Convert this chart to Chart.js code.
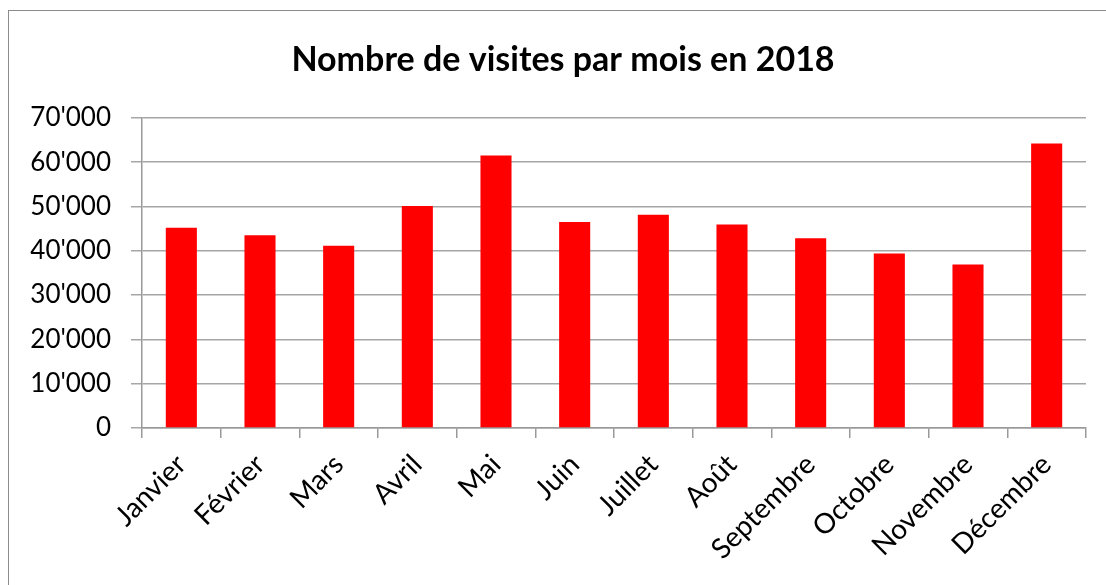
<!DOCTYPE html>
<html>
<head>
<meta charset="utf-8">
<script src="https://cdn.jsdelivr.net/npm/chart.js@4/dist/chart.umd.min.js"></script>
<style>
  html, body { margin: 0; padding: 0; background: #fff; }
  #wrap { position: absolute; left: 0; top: 0; width: 1106px; height: 585px; }
  #frame { position: absolute; left: 8px; top: 10px; width: 1110px; height: 600px; border-left: 1.5px solid #8c8c8c; border-top: 1.5px solid #8c8c8c; box-sizing: border-box; }
  canvas { position: absolute; left: 0; top: 0; }
</style>
</head>
<body>
<div id="wrap">
  <div id="frame"></div>
  <canvas id="c" width="1106" height="585"></canvas>
</div>
<script>
const titleText = "Nombre de visites par mois en 2018";
const categories = ["Janvier", "Février", "Mars", "Avril", "Mai", "Juin", "Juillet", "Août", "Septembre", "Octobre", "Novembre", "Décembre"];
const visits = [45200, 43500, 41100, 50100, 61500, 46500, 48100, 45900, 42800, 39400, 36900, 64200];
const yTicks = [0, 10000, 20000, 30000, 40000, 50000, 60000, 70000];

function fmt(v) {
  return String(Math.round(v)).replace(/\B(?=(\d{3})+(?!\d))/g, "'");
}

const FONT = "Lato, 'Open Sans', sans-serif";

new Chart(document.getElementById('c'), {
  type: 'bar',
  data: {
    labels: categories,
    datasets: [{
      label: 'Visites',
      data: visits,
      yAxisID: 'y',
      backgroundColor: '#ff0000',
      borderWidth: 0,
      categoryPercentage: 1,
      barPercentage: 0.395
    }]
  },
  options: {
    responsive: false,
    animation: false,
    layout: { padding: { left: 20, right: 0, top: 0, bottom: 0 } },
    plugins: {
      legend: { display: false },
      tooltip: { enabled: false },
      title: {
        display: true,
        text: titleText,
        color: '#000',
        font: { family: FONT, size: 34, weight: 'bold', lineHeight: 1.2 },
        padding: { top: 40, bottom: 37 }
      }
    },
    scales: {
      x: {
        offset: true,
        grid: { display: true, drawOnChartArea: false, drawTicks: true, tickLength: 10, color: '#999', lineWidth: 1.5, offset: true },
        border: { display: true, color: '#999', width: 1.5 },
        ticks: {
          color: '#000',
          font: { family: FONT, size: 28 },
          maxRotation: 45,
          minRotation: 45,
          padding: 10,
          autoSkip: false
        },
        afterFit: (s) => { s.height = 157; }
      },
      y: {
        position: 'left',
        min: 0,
        max: 70000,
        afterBuildTicks: (s) => { s.ticks = yTicks.map(v => ({ value: v })); },
        grid: { color: '#a6a6a6', lineWidth: 1.5, drawTicks: true, tickLength: 11 },
        border: { display: true, color: '#999', width: 1.5 },
        ticks: {
          color: '#000',
          font: { family: FONT, size: 26 },
          padding: 20,
          callback: (v) => fmt(v)
        },
        afterFit: (s) => { s.width = 122; }
      },
      yr: {
        position: 'right',
        display: true,
        min: 0,
        max: 70000,
        grid: { display: false, drawTicks: false },
        border: { display: false },
        ticks: { display: false },
        afterFit: (s) => { s.width = 20; }
      }
    }
  }
});
</script>
</body>
</html>
